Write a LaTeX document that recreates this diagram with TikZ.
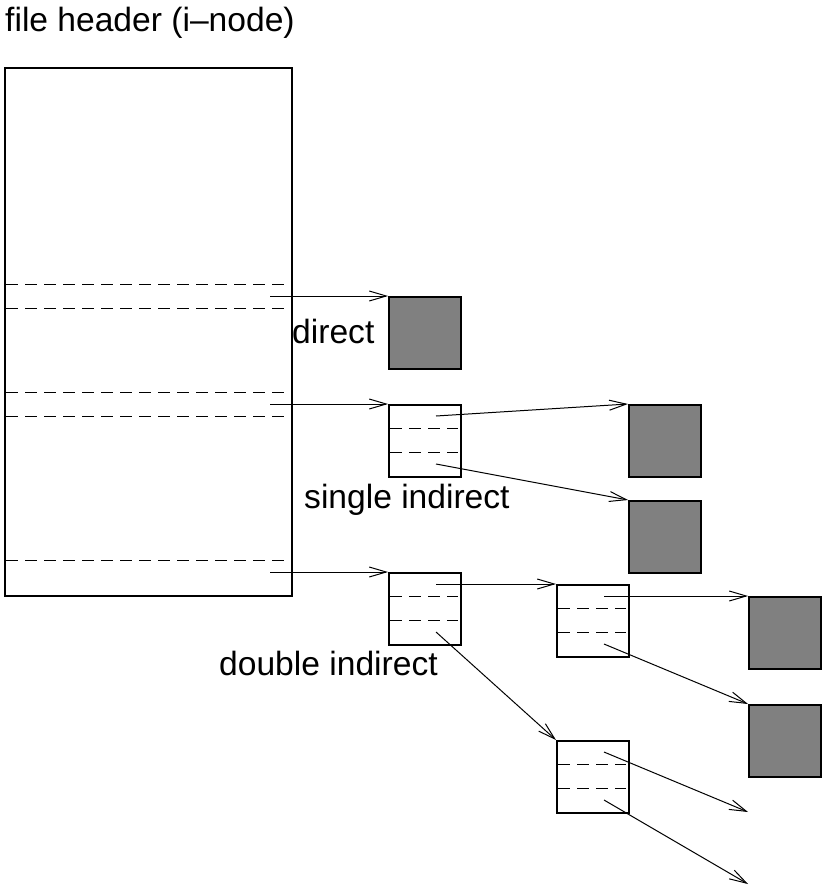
\documentclass[tikz,border=0pt]{standalone}
\usepackage{fontspec}
\setmainfont{Liberation Sans}
\usetikzlibrary{arrows.meta}
\begin{document}
\begin{tikzpicture}[x=1pt,y=-1pt,
  box/.style={draw,line width=2pt},
  fullbox/.style={box,fill=black!50},
  dline/.style={line width=1pt,dash pattern=on 12pt off 7pt},
  ptr/.style={line width=1pt,-{Straight Barb[length=17pt,width=10pt,line width=1pt]}},
  lbl/.style={font=\fontsize{33.6}{40}\selectfont,inner sep=0pt}]
\useasboundingbox (0,0) rectangle (822,888);
\node[lbl,anchor=base west] (title) at (5,32) {file header (i–node)};
% i-node
\draw[box] (5,68) rectangle (292,596);
\node[inner sep=0pt,minimum width=287pt,minimum height=528pt,anchor=north west] (inode) at (5,68) {};
\foreach \y in {284,308,392,416,560} \draw[dline] (6,\y) -- (284,\y);
\coordinate (p1) at (270,296);
\coordinate (p2) at (270,404);
\coordinate (p3) at (270,572);
% blocks
\newcommand{\blk}[4]{\node[#4,minimum width=72pt,minimum height=72pt,inner sep=0pt,anchor=north west] (#1) at (#2,#3) {};}
\newcommand{\ind}[3]{\blk{#1}{#2}{#3}{box}
  \draw[dline] (#2+2,#3+24) -- (#2+70,#3+24);
  \draw[dline] (#2+2,#3+48) -- (#2+70,#3+48);
  \coordinate (#1a) at (#2+48,#3+12);
  \coordinate (#1b) at (#2+48,#3+60);}
\blk{d}{388}{296}{fullbox}
\ind{s}{388}{404}
\blk{s1}{628}{404}{fullbox}
\blk{s2}{628}{500}{fullbox}
\ind{dd}{388}{572}
\ind{da}{556}{584}
\ind{db}{556}{740}
\blk{da1}{748}{596}{fullbox}
\blk{da2}{748}{704}{fullbox}
\coordinate (e1) at (748,812);
\coordinate (e2) at (748,884);
% pointers
\draw[ptr] (p1) -- (d.north west);
\draw[ptr] (p2) -- (s.north west);
\draw[ptr] (p3) -- (dd.north west);
\draw[ptr] (sa) -- (s1.north west);
\draw[ptr] (sb) -- (s2.north west);
\draw[ptr] (dda) -- (da.north west);
\draw[ptr] (ddb) -- (db.north west);
\draw[ptr] (daa) -- (da1.north west);
\draw[ptr] (dab) -- (da2.north west);
\draw[ptr] (dba) -- (e1);
\draw[ptr] (dbb) -- (e2);
% labels
\node[lbl,anchor=base west] (ldirect) at (292,343) {direct};
\node[lbl,anchor=base west] (lsingle) at (304,508) {single indirect};
\node[lbl,anchor=base west] (ldouble) at (219,675) {double indirect};
\end{tikzpicture}
\end{document}
